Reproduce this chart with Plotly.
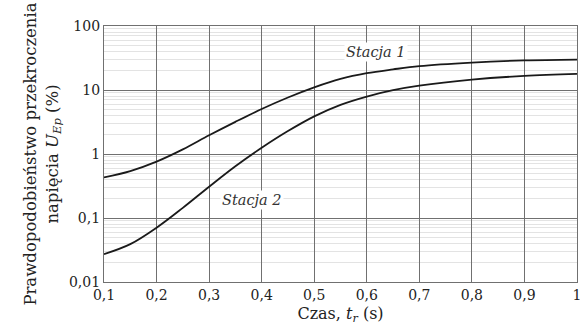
import plotly.graph_objects as go

czas = [0.1, 0.15, 0.2, 0.25, 0.3, 0.35, 0.4, 0.45, 0.5, 0.55, 0.6, 0.65, 0.7, 0.8, 0.9, 1.0]
stacja1 = [0.43, 0.54, 0.76, 1.18, 1.96, 3.18, 5.05, 7.64, 11.0, 14.9, 18.3, 21.0, 23.6, 26.8, 29.0, 29.9]
stacja2 = [0.0272, 0.039, 0.0705, 0.144, 0.308, 0.643, 1.25, 2.28, 3.87, 5.86, 7.9, 9.95, 11.7, 14.5, 16.6, 17.8]

x_ticks = [0.1, 0.2, 0.3, 0.4, 0.5, 0.6, 0.7, 0.8, 0.9, 1.0]
x_labels = ["0,1", "0,2", "0,3", "0,4", "0,5", "0,6", "0,7", "0,8", "0,9", "1"]
y_ticks = [0.01, 0.1, 1, 10, 100]
y_labels = ["0,01", "0,1", "1", "10", "100"]
y_minor = [m * 10.0 ** e for e in range(-2, 2) for m in range(2, 10)]

FONT = "DejaVu Serif"

fig = go.Figure()
for name, vals in [("Stacja 1", stacja1), ("Stacja 2", stacja2)]:
    fig.add_trace(go.Scatter(x=czas, y=vals, mode="lines", name=name,
                             line=dict(color="#1a1a1a", width=1.8, shape="spline", smoothing=1.0),
                             showlegend=False, hoverinfo="skip"))

fig.add_annotation(x=0.618, y=1.6, xref="x", yref="y", text="<i>Stacja 1</i>",
                   showarrow=False, bgcolor="white", font=dict(family=FONT, size=14.5, color="#333"))
fig.add_annotation(x=0.381, y=-0.72, xref="x", yref="y", text="<i>Stacja 2</i>",
                   showarrow=False, bgcolor="white", font=dict(family=FONT, size=14.5, color="#333"))

fig.update_layout(
    width=583, height=333,
    margin=dict(l=104, r=6, t=26, b=51),
    paper_bgcolor="white", plot_bgcolor="white",
    font=dict(family=FONT, size=14, color="#222"),
    xaxis=dict(range=[0.1, 1.0], tickvals=x_ticks, ticktext=x_labels, automargin=False,
               showgrid=True, gridcolor="#707070", gridwidth=1.3,
               showline=True, linecolor="#707070", linewidth=1.3, mirror=True,
               ticks="", zeroline=False,
               title=dict(text="Czas, <i>t</i><sub><i>r</i></sub> (s)", standoff=5,
                          font=dict(family=FONT, size=16))),
    yaxis=dict(type="log", range=[-2, 2], tickvals=y_ticks, ticktext=y_labels, automargin=False,
               showgrid=True, gridcolor="#707070", gridwidth=1.3,
               showline=True, linecolor="#707070", linewidth=1.3, mirror=True,
               ticks="", zeroline=False,
               minor=dict(tickvals=y_minor, showgrid=True, gridcolor="#e3e3e3", gridwidth=1.2),
               title=dict(text="Prawdopodobieństwo przekroczenia<br>napięcia <i>U</i><sub><i>Ep</i></sub> (%)",
                          standoff=6, font=dict(family=FONT, size=16.5))),
)

fig.write_html("out.html", config={"displayModeBar": False},
               post_script="document.body.style.margin='0';")
